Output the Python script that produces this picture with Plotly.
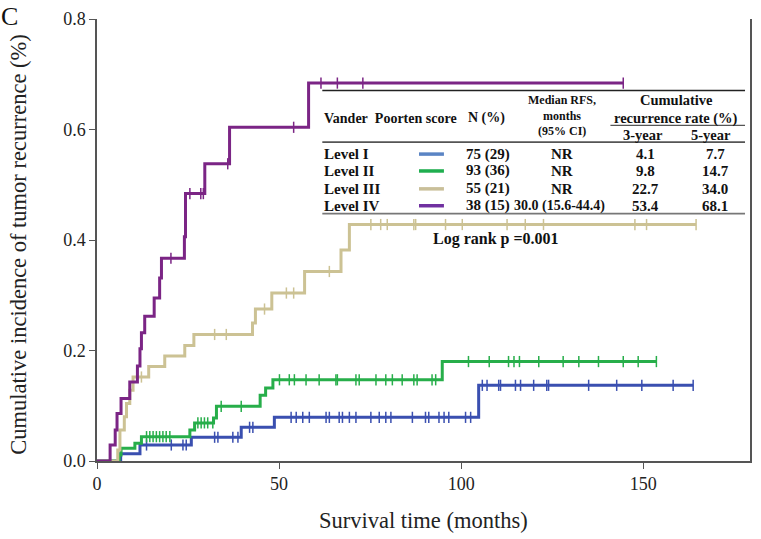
import plotly.graph_objects as go
import numpy as np

# ---------------- data ----------------
levels = ["Level I", "Level II", "Level III", "Level IV"]
n_pct = ["75 (29)", "93 (36)", "55 (21)", "38 (15)"]
median_rfs = ["NR", "NR", "NR", "30.0 (15.6-44.4)"]
rate_3y = ["4.1", "9.8", "22.7", "53.4"]
rate_5y = ["7.7", "14.7", "34.0", "68.1"]

t_I = [0, 6.5, 11.8, 25.9, 39.6, 48.7, 104.8, 163.7]
v_I = [0, 0.013, 0.029, 0.043, 0.061, 0.079, 0.137, 0.137]
c_I = [13.6, 20.4, 23.6, 24.5, 32.3, 33.2, 37.3, 38.7, 41.9, 42.8, 53.3, 54.7, 56.5,
       58.3, 62.9, 63.8, 66.5, 67.4, 69.3, 71.1, 75.2, 77.5, 79.3, 80.7, 86.6, 90.2,
       91.1, 93.9, 95.3, 96.6, 101.2, 102.6, 105.8, 107.1, 110.3, 110.8, 114.9, 116.3,
       119.9, 123.5, 124.0, 135.0, 142.7, 149.6, 158.2, 163.7]

t_II = [0, 6.1, 6.6, 10.4, 12.2, 25.5, 26.8, 32.0, 32.8, 44.8, 46.3, 48.3, 94.8, 153.6]
v_II = [0, 0.011, 0.023, 0.032, 0.044, 0.056, 0.069, 0.078, 0.099, 0.119, 0.132, 0.147, 0.180, 0.180]
c_II = [13.6, 14.5, 15.4, 16.3, 17.2, 18.1, 19.0, 20.0, 27.7, 28.6, 29.5, 30.4, 31.8, 34.1,
        39.6, 50.1, 52.8, 54.2, 57.4, 61.0, 65.6, 66.0, 71.1, 72.0, 76.6, 79.3, 81.1, 83.8,
        87.0, 87.9, 92.0, 93.0, 102.0, 107.7, 113.0, 114.5, 116.0, 121.3, 128.0, 132.3,
        137.7, 144.5, 148.6, 153.6]

t_III = [0, 5.7, 6.3, 7.5, 8.1, 9.0, 9.9, 14.2, 18.6, 24.1, 26.6, 42.7, 43.5, 48.0, 57.0, 67.0, 69.3, 164.5]
v_III = [0, 0.020, 0.056, 0.080, 0.104, 0.128, 0.152, 0.171, 0.190, 0.209, 0.229, 0.250,
         0.275, 0.304, 0.343, 0.382, 0.428, 0.428]
c_III = [12.2, 32.3, 35.5, 46.0, 52.0, 54.0, 63.8, 75.2, 77.9, 79.7, 87.0, 87.5, 95.7, 100.3,
         112.6, 117.6, 122.6, 147.7, 150.9, 164.5]

t_IV = [0, 3.6, 5.0, 5.5, 6.6, 9.0, 11.1, 11.8, 12.2, 13.1, 15.7, 17.2, 17.7, 24.0, 24.3,
        29.6, 36.4, 58.1, 144.5]
v_IV = [0, 0.029, 0.056, 0.086, 0.113, 0.143, 0.172, 0.203, 0.232, 0.262, 0.295, 0.331,
        0.367, 0.406, 0.484, 0.538, 0.604, 0.684, 0.684]
c_IV = [20.3, 25.5, 28.5, 29.2, 35.9, 54.0, 61.5, 66.0, 73.0, 144.5]

x_ticks = [0, 50, 100, 150]
y_ticks = [0.0, 0.2, 0.4, 0.6, 0.8]

curve_colors = ["#3A4FB0", "#27AE4A", "#CCC294", "#7B2585"]
legend_colors = ["#5A84C4", "#1FAE4F", "#C9BF99", "#7030A0"]

series = [(t_I, v_I, c_I), (t_II, v_II, c_II), (t_III, v_III, c_III), (t_IV, v_IV, c_IV)]

# ---------------- figure ----------------
fig = go.Figure()
for (t, v, c), col in zip(series, curve_colors):
    fig.add_trace(go.Scatter(x=t, y=v, mode="lines", line=dict(color=col, width=3, shape="hv"),
                             showlegend=False, hoverinfo="skip"))
    tt = np.array(t)
    vv = np.array(v)
    cy = [vv[np.searchsorted(tt, ci, side="right") - 1] for ci in c]
    fig.add_trace(go.Scatter(x=c, y=cy, mode="markers",
                             marker=dict(symbol="line-ns", size=8, line=dict(color=col, width=1.5)),
                             showlegend=False, hoverinfo="skip"))

# target plot-area edges in page pixels
L, R, T, B = 97, 752, 16, 461
W, H = 761, 539


def px(x):
    return (x - L) / (R - L)


def py(y):
    return (B - y) / (B - T)


FONT = "Liberation Serif, Times New Roman, serif"
ann = []
shapes = []


def text(x, y, s, size=15, anchor="center", bold=True):
    ann.append(dict(x=px(x), y=py(y), xref="paper", yref="paper", text=(f"<b>{s}</b>" if bold else s),
                    showarrow=False, xanchor=anchor, yanchor="middle",
                    font=dict(family=FONT, size=size, color="#111")))


def hline(x0, x1, y, color="#222", width=1.3):
    shapes.append(dict(type="line", xref="paper", yref="paper", x0=px(x0), x1=px(x1), y0=py(y), y1=py(y),
                       line=dict(color=color, width=width)))


# table lines
hline(323, 747, 88)
hline(612, 747, 123, color="#555")
hline(323, 747, 140, color="#555", width=1.6)
hline(323, 747, 212, color="#777", width=1.8)

# header
text(323, 116, "Vander&nbsp;&nbsp;Poorten score", size=14, anchor="left")
text(467, 116, "N (%)", size=14, anchor="left")
text(563, 98, "Median RFS,", size=12)
text(563, 114, "months", size=12)
text(563, 129, "(95% CI)", size=12)
text(678, 98, "Cumulative", size=14.5)
text(678, 116, "recurrence rate (%)", size=14.5)
text(645, 133, "3-year", size=14.5)
text(713, 133, "5-year", size=14.5)

row_y = [152, 169, 187, 204]
for i in range(4):
    y = row_y[i]
    text(323, y, levels[i], anchor="left")
    shapes.append(dict(type="line", xref="paper", yref="paper", x0=px(420), x1=px(445), y0=py(y), y1=py(y),
                       line=dict(color=legend_colors[i], width=3.5)))
    text(465, y, n_pct[i], anchor="left")
    text(561 if i == 3 else 563, y, median_rfs[i], size=14 if i == 3 else 15)
    text(647, y, rate_3y[i])
    text(717, y, rate_5y[i])

text(497, 237, "Log rank p =0.001", size=16)

# panel letter and axis titles
ann.append(dict(x=px(0), y=py(-2), xref="paper", yref="paper", text="C", showarrow=False,
                xanchor="left", yanchor="top", borderpad=0,
                font=dict(family=FONT, size=26, color="#111")))
ann.append(dict(x=px(18), y=py(243), xref="paper", yref="paper",
                text="Cumulative incidence of tumor recurrence (%)", textangle=-90, showarrow=False,
                xanchor="center", yanchor="middle", font=dict(family=FONT, size=22.5, color="#222")))
ann.append(dict(x=px(425), y=py(521), xref="paper", yref="paper", text="Survival time (months)",
                showarrow=False, xanchor="center", yanchor="middle",
                font=dict(family=FONT, size=22.5, color="#222")))

fig.update_layout(
    width=W, height=H,
    margin=dict(l=L, r=W - R, t=T, b=H - B, pad=0),
    plot_bgcolor="white", paper_bgcolor="white",
    annotations=ann, shapes=shapes,
    xaxis=dict(range=[0, (R - L) / 3.653], tickvals=x_ticks, ticktext=[str(v) for v in x_ticks],
               showgrid=False, zeroline=False, showline=True, linecolor="#555", linewidth=1.5,
               ticks="outside", ticklen=6, tickcolor="#555", tickwidth=1.3,
               ticklabeloverflow="allow",
               tickfont=dict(family=FONT, size=18, color="#222")),
    yaxis=dict(range=[0, 0.8], tickvals=y_ticks, ticktext=[f"{v:.1f}" for v in y_ticks],
               showgrid=False, zeroline=False, showline=True, linecolor="#555", linewidth=1.5,
               mirror=True, ticks="outside", ticklen=6, tickcolor="#555", tickwidth=1.3,
               ticklabeloverflow="allow",
               tickfont=dict(family=FONT, size=18, color="#222")),
)

fig.write_html("out.html", config={"displayModeBar": False},
               post_script="document.body.style.margin='0';")
